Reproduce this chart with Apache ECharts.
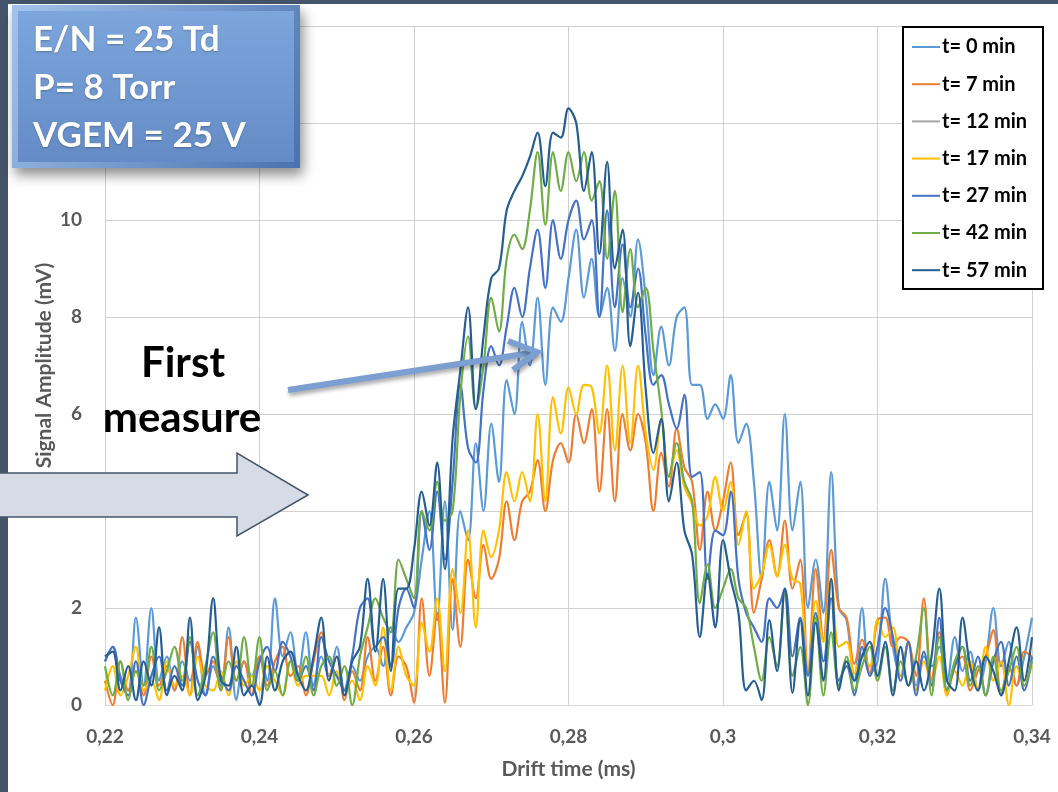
<!DOCTYPE html>
<html>
<head>
<meta charset="utf-8">
<script src="https://cdn.jsdelivr.net/npm/echarts@6/dist/echarts.min.js"></script>
<style>
  html, body { margin: 0; padding: 0; background: #ffffff; }
  #chart { width: 1058px; height: 792px; }
</style>
</head>
<body>
<div id="chart"></div>
<script>
// ---------------- DATA ----------------
// sampling grid of the drift-time axis (ms)
const X_START = 0.22;
const X_STEP = 0.001;

const seriesNames = ['t= 0 min', 't= 7 min', 't= 12 min', 't= 17 min', 't= 27 min', 't= 42 min', 't= 57 min'];
const seriesColors = ['#5B9BD5', '#ED7D31', '#A5A5A5', '#FFC000', '#4472C4', '#70AD47', '#255E91'];

const xTickValues = [0.22, 0.24, 0.26, 0.28, 0.30, 0.32, 0.34];
const yTickValues = [0, 2, 4, 6, 8, 10, 12, 14];

// Signal amplitude (mV), one value per 0.001 ms from 0.220 to 0.340
const t0min = [
  0.9, 1.2, 0.6, 0.3, 1.8, 0.4, 2.0, 0.5, 1.0, 0.3, 0.9, 0.5, 1.2, 0.2, 0.8, 0.4, 1.6, 0.1, 0.9, 0.6,
  1.0, 0.5, 2.2, 1.0, 1.5, 0.6, 1.5, 0.4, 1.0, 0.6, 1.2, 0.3, 0.8, 0.5, 1.0, 1.2, 0.8, 1.6,
  1.3, 1.6, 1.9, 3.0, 4.0, 1.75, 4.2, 1.55, 4.0, 3.4, 5.4, 4.0, 5.8, 4.6, 6.7, 6.0, 7.9, 7.0, 8.4, 6.6, 8.2, 7.9, 8.8,
  9.8, 8.4, 9.2, 8.0, 8.6, 7.3, 8.8, 8.0, 9.6, 8.4, 6.8, 7.8, 7.0, 8.0, 8.2, 6.6, 6.6, 5.9, 6.2, 5.9,
  6.8, 5.4, 5.8, 4.6, 2.6, 4.6, 3.6, 6.0, 3.6, 4.6, 2.0, 3.0, 1.9, 4.8, 2.0, 1.75, 0.5, 2.0, 0.65, 0.9,
  2.6, 1.2, 0.6, 1.3, 0.4, 1.0, 0.8, 1.2, 0.5, 1.4, 0.7, 1.1, 0.3, 0.9, 2.0, 0.8, 1.3, 0.4, 1.0, 1.8
];
const t7min = [
  0.5, 0.0, 0.9, 0.3, 0.7, 0.2, 1.0, 0.4, 0.8, 0.3, 1.4, 0.2, 1.3, 0.6, 0.9, 0.3, 1.4, 0.5, 0.9, 0.2,
  1.0, 0.4, 0.9, 1.2, 0.6, 0.8, 0.2, 0.9, 1.5, 0.6, 1.0, 0.1, 0.7, 0.3, 1.4, 0.5, 1.2, 0.2, 1.0, 0.8, 0.05,
  2.2, 0.6, 1.9, 0.05, 2.6, 1.2, 3.0, 2.2, 3.3, 2.6, 3.0, 4.2, 3.4, 4.2, 4.4, 5.05, 4.0, 5.05, 5.4, 5.0,
  6.0, 5.4, 6.1, 4.4, 6.1, 4.2, 6.0, 5.25, 6.0, 5.4, 4.0, 5.2, 4.5, 5.7, 4.9, 4.6, 3.2, 4.4, 3.6, 4.2,
  5.0, 3.5, 3.95, 1.9, 2.6, 3.4, 2.65, 3.8, 2.4, 3.0, 0.65, 2.8, 1.35, 3.2, 2.0, 1.8, 0.85, 1.35, 0.65, 1.75,
  1.8, 1.2, 1.4, 1.3, 0.6, 2.2, 0.5, 1.5, 0.2, 0.8, 1.0, 0.3, 0.7, 1.0, 1.55, 0.2, 0.8, 0.4, 1.1, 1.0
];
const t12min = [];
const t17min = [
  0.3, 0.8, 0.2, 0.6, 1.2, 0.3, 0.5, 0.1, 0.9, 0.4, 0.6, 0.2, 1.0, 0.4, 0.3, 0.7, 0.2, 0.9, 0.4, 0.6,
  0.3, 0.8, 0.5, 0.2, 0.9, 0.4, 0.6, 0.6, 0.6, 0.2, 0.7, 0.3, 0.5, 0.1, 0.8, 0.4, 1.6, 0.3, 1.2, 0.6, 0.4,
  1.7, 1.1, 2.2, 0.7, 2.8, 1.9, 3.6, 1.6, 3.6, 3.05, 3.6, 4.8, 4.2, 4.8, 4.2, 6.0, 4.2, 6.35, 5.6, 6.55,
  6.0, 6.6, 6.55, 5.6, 7.0, 5.25, 7.0, 5.4, 7.0, 5.6, 4.85, 5.9, 4.7, 5.25, 4.5, 4.15, 3.7, 3.9, 4.7, 4.0,
  4.6, 3.3, 4.0, 2.4, 2.7, 3.3, 2.65, 3.3, 2.6, 2.5, 0.65, 2.15, 1.3, 2.6, 1.2, 1.3, 0.65, 1.05, 0.8, 1.75,
  1.4, 1.6, 0.6, 1.3, 0.3, 0.9, 0.5, 1.0, 0.2, 0.7, 0.4, 0.9, 0.3, 1.2, 0.5, 0.9, 0.0, 0.8, 0.5, 0.8
];
const t27min = [
  0.9, 1.2, 0.5, 0.2, 0.9, 0.0, 0.6, 1.0, 0.3, 0.8, 0.4, 1.3, 0.5, 0.2, 1.0, 0.6, 0.3, 0.8, 0.5, 0.2,
  0.9, 1.2, 0.7, 1.3, 1.0, 0.5, 0.8, 0.3, 1.4, 0.9, 0.6, 0.3, 1.0, 2.0, 2.2, 1.2, 1.4, 0.8, 2.0, 2.4, 2.0,
  4.0, 3.2, 4.4, 3.0, 4.6, 6.6, 5.3, 5.0, 6.5, 7.4, 7.0, 7.8, 8.6, 8.0, 9.0, 9.8, 8.6, 10.0, 9.2, 10.0,
  10.4, 9.6, 10.0, 8.0, 10.2, 8.2, 9.5, 8.2, 9.0, 7.6, 6.6, 6.8, 6.2, 5.7, 6.4, 4.7, 4.8, 2.6, 3.6, 3.5,
  4.4, 2.6, 1.9, 1.6, 1.3, 2.2, 2.0, 2.4, 1.0, 1.8, 0.6, 1.9, 0.9, 2.2, 0.5, 0.8, 0.2, 1.2, 0.6, 1.2,
  2.0, 1.4, 0.5, 1.3, 0.2, 1.1, 0.4, 1.8, 0.3, 0.8, 1.2, 0.5, 1.0, 0.2, 0.9, 1.3, 0.4, 1.0, 0.3, 1.0
];
const t42min = [
  0.8, 0.2, 0.9, 0.1, 0.7, 0.4, 1.2, 0.3, 0.7, 1.2, 0.5, 1.4, 0.2, 0.8, 1.5, 0.3, 0.9, 0.5, 1.4, 0.4,
  1.4, 0.3, 0.7, 0.2, 0.9, 0.5, 1.0, 0.2, 0.8, 1.0, 0.4, 0.8, 0.0, 1.0, 1.6, 2.2, 1.8, 1.5, 3.0, 2.6, 2.2,
  4.0, 3.6, 4.6, 3.8, 4.0, 6.4, 7.6, 6.1, 7.0, 8.4, 7.7, 9.2, 9.7, 9.4, 10.2, 11.4, 9.9, 11.4, 10.6, 11.4,
  10.8, 11.4, 10.4, 10.8, 9.2, 10.6, 8.1, 9.4, 8.2, 8.6, 7.3, 6.1, 4.7, 5.4, 4.6, 4.2, 2.1, 2.9, 2.0, 2.4,
  2.8, 2.2, 2.0, 1.2, 0.5, 1.4, 0.8, 2.3, 0.6, 1.2, 0.0, 1.8, 0.2, 1.5, 0.4, 1.0, 0.3, 0.8, 1.2, 0.5,
  1.2, 0.3, 0.9, 0.4, 1.0, 2.0, 0.2, 1.4, 0.3, 0.9, 1.2, 0.4, 0.8, 0.2, 1.0, 0.3, 0.7, 1.2, 0.4, 0.9
];
const t57min = [
  1.0, 1.1, 0.3, 0.8, 0.1, 0.9, 0.4, 1.6, 0.2, 0.6, 0.3, 1.8, 0.1, 0.6, 2.2, 0.5, 0.4, 1.2, 0.2, 0.4,
  0.0, 1.0, 0.3, 0.9, 1.1, 0.6, 0.3, 1.0, 1.8, 0.5, 1.0, 0.2, 0.9, 1.2, 2.6, 1.1, 2.6, 0.7, 2.4, 2.4, 3.2,
  4.4, 3.7, 5.0, 2.8, 5.5, 6.9, 8.2, 6.1, 7.6, 8.8, 9.0, 10.2, 10.6, 10.9, 11.3, 11.8, 10.7, 11.8, 11.7, 12.3,
  12.0, 10.6, 11.4, 9.3, 11.2, 9.0, 9.8, 7.4, 8.5, 6.5, 5.2, 5.9, 4.2, 5.0, 3.6, 3.1, 1.4, 2.7, 1.6, 3.4,
  2.6, 1.9, 0.3, 0.5, 0.1, 1.75, 0.7, 2.4, 0.25, 1.75, 0.2, 1.7, 0.5, 2.6, 0.3, 0.9, 0.5, 1.0, 1.3, 0.6,
  1.3, 0.2, 1.2, 0.4, 0.9, 0.3, 1.0, 2.4, 0.5, 0.3, 1.8, 0.8, 0.3, 1.0, 0.7, 0.2, 0.9, 1.6, 0.5, 1.4
];
const allValues = [t0min, t7min, t12min, t17min, t27min, t42min, t57min];

// annotation texts
const boxLines = ['E/N = 25 Td', 'P= 8 Torr', 'VGEM = 25 V'];
const noteLines = ['First', 'measure'];

// ---------------- CHART ----------------
const FONT = 'Lato, "Open Sans", sans-serif';
const chart = echarts.init(document.getElementById('chart'), null, { renderer: 'canvas' });

function toPairs(vals) {
  return vals.map((v, i) => [+(X_START + i * X_STEP).toFixed(3), v]);
}
function fmt(v) {
  return String(+(+v).toFixed(2)).replace('.', ',');
}

const series = seriesNames.map((name, k) => ({
  name: name,
  type: 'line',
  data: toPairs(allValues[k]),
  showSymbol: false,
  symbol: 'none',
  smooth: 0.35,
  lineStyle: { color: seriesColors[k], width: 2.2 },
  itemStyle: { color: seriesColors[k] },
  z: 2 + k * 0.01
}));

const boxTextStyle = (txt, y) => ({
  type: 'text', z: 42,
  style: { text: txt, x: 33, y: y, fill: '#ffffff', font: 'bold 35px ' + FONT,
    textVerticalAlign: 'middle', textShadowColor: 'rgba(0,0,0,0.25)', textShadowBlur: 2, textShadowOffsetY: 1 }
});

const option = {
  animation: false,
  backgroundColor: '#ffffff',
  textStyle: { fontFamily: FONT },
  grid: { left: 105, right: 26, top: 26, bottom: 87, containLabel: false },
  xAxis: {
    type: 'value',
    min: 0.22, max: 0.34, interval: 0.02,
    name: 'Drift time (ms)',
    nameLocation: 'middle',
    nameGap: 54,
    nameTextStyle: { fontFamily: FONT, fontWeight: 'bold', fontSize: 21, color: '#595959' },
    axisLine: { show: true, lineStyle: { color: '#D9D9D9', width: 1 } },
    axisTick: { show: false },
    axisLabel: { formatter: fmt, margin: 22, fontFamily: FONT, fontWeight: 'bold', fontSize: 19, color: '#595959' },
    splitLine: { show: true, lineStyle: { color: '#D0D0D0', width: 1 } }
  },
  yAxis: {
    type: 'value',
    min: 0, max: 14, interval: 2,
    name: 'Signal Amplitude (mV)',
    nameLocation: 'middle',
    nameGap: 50,
    nameMoveOverlap: false,
    nameRotate: 90,
    nameTextStyle: { fontFamily: FONT, fontWeight: 'bold', fontSize: 21, color: '#595959' },
    axisLine: { show: false },
    axisTick: { show: false },
    axisLabel: { formatter: fmt, margin: 23, fontFamily: FONT, fontWeight: 'bold', fontSize: 19, color: '#595959' },
    splitLine: { show: true, lineStyle: { color: '#D0D0D0', width: 1 } }
  },
  legend: {
    orient: 'vertical',
    left: 912, top: 37,
    itemWidth: 28, itemHeight: 2,
    itemGap: 17.2,
    icon: 'rect',
    padding: 0,
    textStyle: { fontFamily: FONT, fontWeight: 'bold', fontSize: 20, color: '#000000', padding: [0, 0, 0, -3] },
    data: seriesNames,
    z: 20
  },
  series: series,
  graphic: [
    // legend frame
    { type: 'rect', z: 10, shape: { x: 903, y: 27, width: 140, height: 262 },
      style: { fill: '#ffffff', stroke: '#000000', lineWidth: 2 } },
    // slide border (left & top)
    { type: 'rect', z: 30, shape: { x: 0, y: 0, width: 8, height: 792 }, style: { fill: '#44546A' } },
    { type: 'rect', z: 30, shape: { x: 0, y: 0, width: 1058, height: 4 }, style: { fill: '#44546A' } },
    // big grey block arrow
    { type: 'polygon', z: 40,
      shape: { points: [[-4, 473], [237, 473], [237, 453], [308, 495], [237, 536], [237, 517], [-4, 517]] },
      style: { fill: '#D6DCE5', stroke: '#44546A', lineWidth: 1.5 } },
    // blue info box (bevel + face)
    { type: 'rect', z: 40, shape: { x: 12, y: 5, width: 288, height: 163 },
      style: {
        fill: new echarts.graphic.LinearGradient(0, 0, 1, 1, [
          { offset: 0, color: '#A3C3EC' }, { offset: 1, color: '#4A72AE' }
        ]),
        shadowBlur: 12, shadowOffsetX: 3, shadowOffsetY: 7, shadowColor: 'rgba(0,0,0,0.45)'
      } },
    { type: 'rect', z: 41, shape: { x: 18, y: 11, width: 276, height: 151 },
      style: {
        fill: new echarts.graphic.LinearGradient(0, 0, 0, 1, [
          { offset: 0, color: '#7DA6DD' }, { offset: 1, color: '#648BC5' }
        ])
      } },
    boxTextStyle(boxLines[0], 40),
    boxTextStyle(boxLines[1], 88),
    boxTextStyle(boxLines[2], 136),
    // "First measure"
    { type: 'text', z: 42, style: { text: noteLines[0], x: 183, y: 363, fill: '#000000', font: 'bold 42px ' + FONT,
      textAlign: 'center', textVerticalAlign: 'middle' } },
    { type: 'text', z: 42, style: { text: noteLines[1], x: 182, y: 418, fill: '#000000', font: 'bold 42px ' + FONT,
      textAlign: 'center', textVerticalAlign: 'middle' } },
    // light-blue pointer arrow
    { type: 'polyline', z: 45, shape: { points: [[288, 390], [534, 352.5]] },
      style: { stroke: '#7C9FD2', lineWidth: 6, lineCap: 'butt',
        shadowBlur: 4, shadowOffsetX: 1, shadowOffsetY: 3, shadowColor: 'rgba(0,0,0,0.35)' } },
    { type: 'polyline', z: 45, shape: { points: [[508, 341], [537, 352], [513, 370]] },
      style: { stroke: '#7C9FD2', lineWidth: 6, lineJoin: 'miter', lineCap: 'butt', fill: null,
        shadowBlur: 4, shadowOffsetX: 1, shadowOffsetY: 3, shadowColor: 'rgba(0,0,0,0.35)' } }
  ]
};

chart.setOption(option);
</script>
</body>
</html>
